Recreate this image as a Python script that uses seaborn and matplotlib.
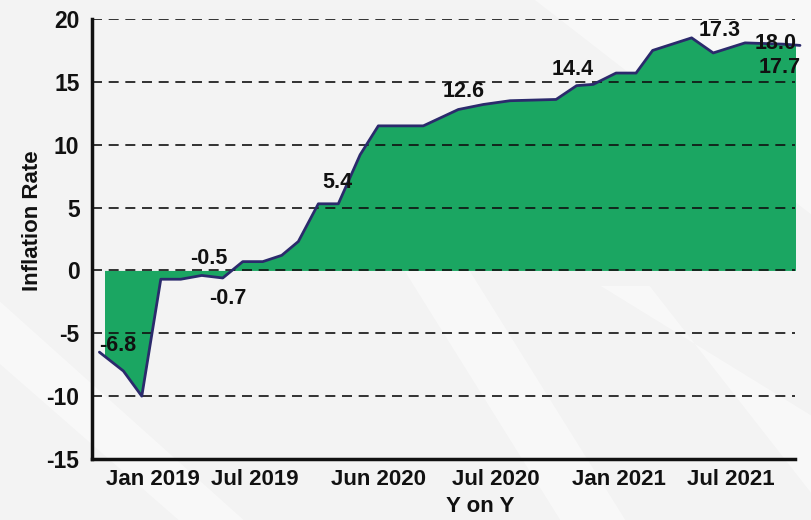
import matplotlib
matplotlib.use("Agg")
import matplotlib.pyplot as plt
from matplotlib.patches import Polygon, Rectangle
import numpy as np
import pandas as pd
import seaborn as sns

# ---- data ----
period = [0.0, 1.2, 2.12, 3.07, 4.07, 5.12, 6.17, 7.17, 8.17, 9.12, 9.95, 10.95,
          11.95, 13.04, 13.95, 16.2, 17.95, 19.2, 20.54, 22.84, 23.87, 24.7,
          25.84, 26.84, 27.67, 29.62, 30.7, 32.29, 34.19, 35.04]
inflation = [-6.5, -8.0, -10.0, -0.7, -0.7, -0.4, -0.6, 0.7, 0.7, 1.2, 2.3, 5.3,
             5.3, 9.2, 11.5, 11.5, 12.8, 13.2, 13.5, 13.6, 14.7, 14.8,
             15.7, 15.7, 17.5, 18.5, 17.3, 18.1, 18.0, 17.9]
label_index = [0, 5, 6, 12, 16, 20, 26, 28, 29]
label_text = ["-6.8", "-0.5", "-0.7", "5.4", "12.6", "14.4", "17.3", "18.0", "17.7"]
tick_pos = [2.69, 7.79, 13.94, 19.84, 25.99, 31.59]
tick_labels = ["Jan 2019", "Jul 2019", "Jun 2020", "Jul 2020", "Jan 2021", "Jul 2021"]
y_ticks = [-15, -10, -5, 0, 5, 10, 15, 20]

df = pd.DataFrame({"period": period, "inflation": inflation})

sns.set_theme(style="white")
plt.rcParams["font.family"] = ["Liberation Sans", "DejaVu Sans"]
plt.rcParams["font.weight"] = "bold"
plt.rcParams["axes.unicode_minus"] = False

fig = plt.figure(figsize=(8.12, 5.2), dpi=100, facecolor="#f3f3f3")

# background layer with soft diagonal light streaks
bgax = fig.add_axes([0, 0, 1, 1], zorder=0)
bgax.set_xlim(0, 1)
bgax.set_ylim(0, 1)
bgax.axis("off")
bg = [
    [(0.659, 1.0), (1.0, 1.0), (1.0, 0.587)],
    [(0.47, 0.55), (0.55, 0.55), (0.77, 0.0), (0.69, 0.0)],
    [(0.74, 0.45), (0.80, 0.45), (1.0, 0.05), (1.0, 0.2)],
    [(0.0, 0.42), (0.0, 0.30), (0.22, 0.0), (0.30, 0.0)],
]
for pts in bg:
    bgax.add_patch(Polygon(pts, closed=True, facecolor="white", alpha=0.45,
                           edgecolor="none"))

ax = fig.add_axes([92 / 812, 1 - 459 / 520, (795 - 92) / 812, (459 - 19) / 520], zorder=1)
ax.set_facecolor("none")

fill = ax.fill_between(df["period"], 0, df["inflation"], color="#1ba662",
                       linewidth=0, zorder=1)
clip = Rectangle((0.29, -15), 34.5, 35, transform=ax.transData)
fill.set_clip_path(clip)

sns.lineplot(data=df, x="period", y="inflation", ax=ax, color="#2b2a6c",
             linewidth=2.0, zorder=3, clip_on=False)

offsets = [(18, 7), (7, 17), (5, -21), (-1, 21), (5, 18), (-4, 16), (6, 22), (-7, 1), (-20, -22)]
for i, t, (dx, dy) in zip(label_index, label_text, offsets):
    ax.annotate(t, (period[i], inflation[i]), xytext=(dx, dy), textcoords="offset pixels",
                ha="center", va="center", fontsize=15.5, fontweight="bold",
                color="#111111", zorder=4, annotation_clip=False)

ax.set_xlim(-0.37, 34.79)
ax.set_ylim(-15, 20)
ax.set_yticks(y_ticks)
ax.set_xticks(tick_pos)
ax.set_xticklabels(tick_labels)
ax.tick_params(axis="both", length=0, labelsize=16, colors="#111111")
ax.tick_params(axis="y", labelsize=16.5, pad=9)
ax.tick_params(axis="x", pad=7)
for lab in ax.get_xticklabels() + ax.get_yticklabels():
    lab.set_fontweight("bold")

for yv in y_ticks[1:]:
    ax.axhline(yv, color="#111111", linewidth=1.2, linestyle=(0, (6, 4)), zorder=2.5)

for s in ["top", "right"]:
    ax.spines[s].set_visible(False)
for s in ["left", "bottom"]:
    ax.spines[s].set_color("#111111")
    ax.spines[s].set_linewidth(2.5)

ax.set_xlabel("")
ax.set_ylabel("")
fig.text(33 / 812, 1 - 221 / 520, "Inflation Rate", rotation=90, ha="center", va="center",
         fontsize=16, fontweight="bold", color="#111111", zorder=5)
fig.text(480 / 812, 1 - 507 / 520, "Y on Y", ha="center", va="center",
         fontsize=16, fontweight="bold", color="#111111", zorder=5)

fig.savefig("out.png", dpi=100, facecolor=fig.get_facecolor())
